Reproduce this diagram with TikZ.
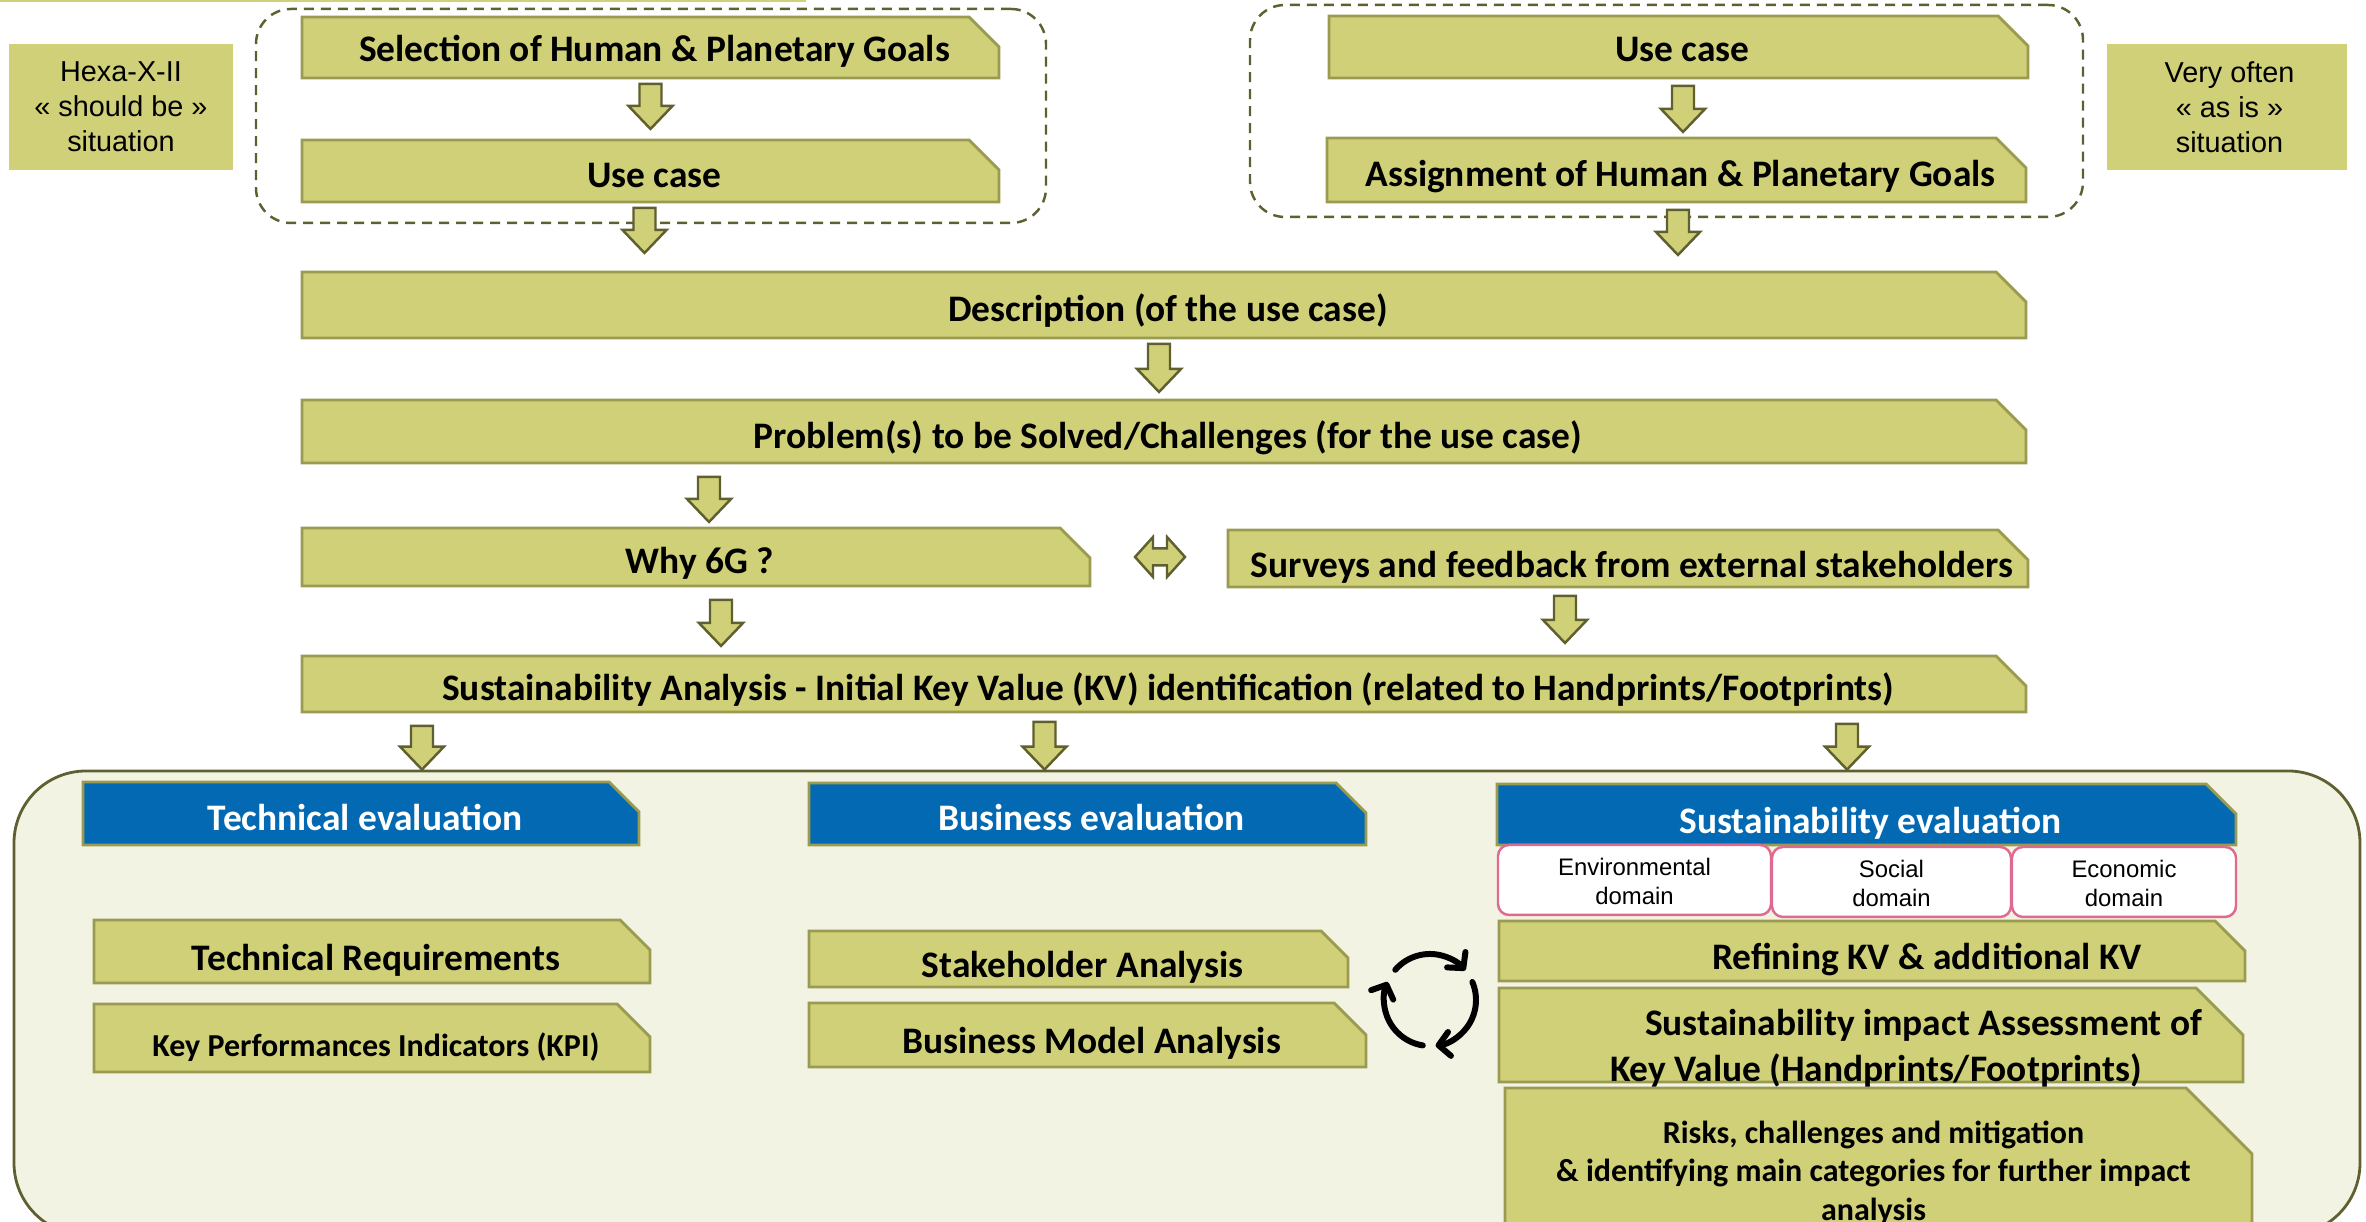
\documentclass[tikz,border=0pt]{standalone}
\usepackage{fontspec}
\setmainfont{Carlito}
\newfontfamily\arialfont{Liberation Sans}
\usetikzlibrary{calc,arrows.meta}
\definecolor{boxfill}{HTML}{CFD077}
\definecolor{boxline}{HTML}{9A9B50}
\definecolor{darkline}{HTML}{5F5F30}
\definecolor{panelfill}{HTML}{F3F3E3}
\definecolor{headblue}{HTML}{0369B3}
\definecolor{domainline}{HTML}{E06A8F}
\makeatletter
\pgfdeclareshape{cutrect}{
    \inheritsavedanchors[from=rectangle]
    \inheritanchorborder[from=rectangle]
    \inheritanchor[from=rectangle]{center}
    \inheritanchor[from=rectangle]{mid}
    \inheritanchor[from=rectangle]{base}
    \inheritanchor[from=rectangle]{north}
    \inheritanchor[from=rectangle]{south}
    \inheritanchor[from=rectangle]{east}
    \inheritanchor[from=rectangle]{west}
    \inheritanchor[from=rectangle]{north east}
    \inheritanchor[from=rectangle]{north west}
    \inheritanchor[from=rectangle]{south east}
    \inheritanchor[from=rectangle]{south west}
    \backgroundpath{
        \southwest \pgf@xa=\pgf@x \pgf@ya=\pgf@y
        \northeast \pgf@xb=\pgf@x \pgf@yb=\pgf@y
        \pgfpathmoveto{\pgfqpoint{\pgf@xa}{\pgf@ya}}
        \pgfpathlineto{\pgfqpoint{\pgf@xa}{\pgf@yb}}
        \pgfpathlineto{\pgfpoint{\pgf@xb-\cutsize}{\pgf@yb}}
        \pgfpathlineto{\pgfpoint{\pgf@xb}{\pgf@yb-\cutsize}}
        \pgfpathlineto{\pgfqpoint{\pgf@xb}{\pgf@ya}}
        \pgfpathclose
    }
}
\makeatother
\tikzset{
    cutsize/.store in=\cutsize, cutsize=.30cm,
    cutbox/.style={cutrect, cutsize=.30cm, draw=boxline, fill=boxfill, line width=.8pt,
        inner sep=0pt, outer sep=0pt, text height=11.5pt, text depth=2pt,
        execute at begin node=\hspace*{.08cm},
        font=\bfseries\fontsize{10.65}{12}\selectfont},
    hightext/.style={text height=10pt},
    lowtext/.style={text height=12.8pt},
    headbox/.style={cutbox, fill=headblue, text=white},
    sitbox/.style={fill=boxfill, inner sep=0pt, align=center,
        font=\arialfont\fontsize{8.2}{10}\selectfont},
    domainbox/.style={draw=domainline, fill=white, line width=.7pt, rounded corners=.11cm,
        inner sep=0pt, align=center, text height=15.7pt, text depth=2pt,
        font=\arialfont\fontsize{6.8}{8}\selectfont},
    groupbox/.style={draw=darkline, line width=.7pt, rounded corners=.35cm,
        dash pattern=on .1cm off .07cm},
    blkarrow/.style={draw=darkline, fill=boxfill, line width=.7pt, to path={
        ($(\tikztostart)+(-.11,0)$) -- ($(\tikztostart)+(.11,0)$)
        -- ($(\tikztotarget)+(.11,.23)$) -- ($(\tikztotarget)+(.22,.23)$)
        -- (\tikztotarget) -- ($(\tikztotarget)+(-.22,.23)$)
        -- ($(\tikztotarget)+(-.11,.23)$) -- cycle}},
    dblarrow/.style={draw=darkline, fill=boxfill, line width=.7pt, to path={
        (\tikztostart) -- ($(\tikztostart)+(.18,.2)$) -- ($(\tikztostart)+(.18,.085)$)
        -- ($(\tikztotarget)+(-.18,.085)$) -- ($(\tikztotarget)+(-.18,.2)$)
        -- (\tikztotarget) -- ($(\tikztotarget)+(-.18,-.2)$) -- ($(\tikztotarget)+(-.18,-.085)$)
        -- ($(\tikztostart)+(.18,-.085)$) -- ($(\tikztostart)+(.18,-.2)$) -- cycle}},
    cyclearrow/.style={black, line width=1.7pt, line cap=round,
        -{Straight Barb[length=.11cm,width=.24cm,line width=1.7pt,round]}}
}
\begin{document}
\begin{tikzpicture}
    \useasboundingbox (0,0) rectangle (23.66,12.22);
    \fill[boxfill] (0,12.2) rectangle (8.06,12.22);

    % the two ways in
    \node[groupbox, minimum width=7.9cm, minimum height=2.14cm] (groupa) at (6.51,11.06) {};
    \node[groupbox, minimum width=8.33cm, minimum height=2.12cm] (groupb) at (16.665,11.11) {};
    \node[sitbox, minimum width=2.24cm, minimum height=1.26cm] (hexa) at (1.21,11.15)
        {Hexa-X-II\\« should be »\\situation};
    \node[sitbox, minimum width=2.4cm, minimum height=1.26cm] (often) at (22.27,11.15)
        {\hspace*{.05cm}Very often\\\hspace*{.05cm}« as is »\\\hspace*{.05cm}situation};
    \node[cutbox, hightext, minimum width=6.97cm, minimum height=.61cm] (goals) at (6.505,11.745)
        {Selection of Human \& Planetary Goals};
    \node[cutbox, minimum width=6.97cm, minimum height=.62cm] (usecasea) at (6.505,10.51) {Use case};
    \node[cutbox, hightext, minimum width=6.99cm, minimum height=.62cm] (usecaseb) at (16.785,11.75) {Use case};
    \node[cutbox, minimum width=6.99cm, minimum height=.64cm] (assign) at (16.765,10.52)
        {Assignment of Human \& Planetary Goals};

    % the main column
    \node[cutbox, minimum width=17.24cm, minimum height=.66cm] (descr) at (11.64,9.17)
        {Description (of the use case)};
    \node[cutbox, minimum width=17.24cm, minimum height=.63cm] (problem) at (11.64,7.905)
        {Problem(s) to be Solved/Challenges (for the use case)};
    \node[cutbox, minimum width=7.88cm, minimum height=.58cm] (why) at (6.96,6.65) {Why 6G ?};
    \node[cutbox, lowtext, minimum width=8cm, minimum height=.57cm] (surveys) at (16.28,6.635)
        {Surveys and feedback from external stakeholders};
    \node[cutbox, minimum width=17.24cm, minimum height=.56cm] (analysis) at (11.64,5.38)
        {Sustainability Analysis - Initial Key Value (KV) identification (related to Handprints/Footprints)};

    % the evaluation panel
    \node[draw=darkline, fill=panelfill, line width=.8pt, rounded corners=.72cm,
        minimum width=23.46cm, minimum height=4.64cm] (panel) at (11.87,2.19) {};
    \node[headbox, minimum width=5.56cm, minimum height=.63cm] (techeval) at (3.61,4.085) {Technical evaluation};
    \node[headbox, minimum width=5.57cm, minimum height=.62cm] (buseval) at (10.875,4.08) {Business evaluation};
    \node[headbox, lowtext, minimum width=7.39cm, minimum height=.61cm] (susteval) at (18.665,4.075) {Sustainability evaluation};
    \node[domainbox, minimum width=2.73cm, minimum height=.7cm] (envdom) at (16.345,3.42) {Environmental\\domain};
    \node[domainbox, minimum width=2.39cm, minimum height=.7cm] (socdom) at (18.915,3.40) {Social\\domain};
    \node[domainbox, minimum width=2.24cm, minimum height=.7cm] (ecodom) at (21.24,3.40) {Economic\\domain};
    \node[cutbox, lowtext, minimum width=5.56cm, minimum height=.63cm] (techreq) at (3.72,2.705) {Technical Requirements};
    \node[cutbox, lowtext, minimum width=5.56cm, minimum height=.68cm, cutsize=.33cm,
        font=\bfseries\fontsize{9.1}{11}\selectfont] (kpi) at (3.72,1.84)
        {Key Performances Indicators (KPI)};
    \node[cutbox, lowtext, minimum width=5.39cm, minimum height=.56cm, cutsize=.27cm] (stake) at (10.785,2.63) {Stakeholder Analysis};
    \node[cutbox, lowtext, minimum width=5.57cm, minimum height=.64cm, cutsize=.32cm] (bmodel) at (10.875,1.87) {Business Model Analysis};
    \node[cutbox, lowtext, minimum width=7.46cm, minimum height=.6cm] (refine) at (18.72,2.71)
        {\hspace*{1.02cm}Refining KV \& additional KV};
    \node[cutbox, minimum width=7.44cm, minimum height=.94cm, cutsize=.47cm] (impact) at (18.71,1.87) {};
    \node[inner sep=0pt, align=left, font=\bfseries\fontsize{10.65}{13}\selectfont] (impacttext) at (19.06,1.74)
        {\hspace*{.35cm}Sustainability impact Assessment of\\Key Value (Handprints/Footprints)};
    \node[cutbox, minimum width=7.47cm, minimum height=1.68cm, cutsize=.66cm] (risks) at (18.785,.50) {};
    \node[inner sep=0pt, align=center, font=\bfseries\fontsize{9.1}{10.9}\selectfont] (riskstext) at (18.735,.49)
        {Risks, challenges and mitigation\\\& identifying main categories for further impact\\analysis};

    % block arrows
    \draw[blkarrow] ($(goals.south)+(0,-.06)$) to ($(usecasea.north)+(0,.11)$);
    \draw[blkarrow] ($(usecasea.south)+(-.06,-.06)$) to ($(usecasea.south |- descr.north)+(-.06,.19)$);
    \draw[blkarrow] ($(usecaseb.south)+(.045,-.08)$) to ($(assign.north)+(.065,.06)$);
    \draw[blkarrow] ($(assign.south)+(.015,-.08)$) to ($(assign.south |- descr.north)+(.015,.17)$);
    \draw[blkarrow] ($(descr.south)+(-.05,-.06)$) to ($(problem.north)+(-.05,.08)$);
    \draw[blkarrow] ($(why.north |- problem.south)+(.13,-.14)$) to ($(why.north)+(.13,.06)$);
    \draw[blkarrow] ($(why.south)+(.25,-.14)$) to ($(why.south |- analysis.north)+(.25,.10)$);
    \draw[blkarrow] ($(surveys.south)+(-.63,-.09)$) to ($(surveys.south |- analysis.north)+(-.63,.13)$);
    \draw[blkarrow] ($(techeval.north |- analysis.south)+(.61,-.14)$) to ($(techeval.north |- panel.north)+(.61,0)$);
    \draw[blkarrow] ($(buseval.north |- analysis.south)+(-.43,-.10)$) to ($(buseval.north |- panel.north)+(-.43,0)$);
    \draw[blkarrow] ($(susteval.north |- analysis.south)+(-.195,-.12)$) to ($(susteval.north |- panel.north)+(-.195,0)$);
    \draw[dblarrow] ($(why.east)+(.45,0)$) to ($(why.east -| surveys.west)+(-.43,0)$);

    % the cycle
    \coordinate (cyc) at (14.30,2.22);
    \draw[cyclearrow] (cyc) ++(139:.46) arc (139:40:.46);
    \draw[cyclearrow] (cyc) ++(23:.46) arc (23:-83:.46);
    \draw[cyclearrow] (cyc) ++(261:.46) arc (261:157:.46);
\end{tikzpicture}
\end{document}
